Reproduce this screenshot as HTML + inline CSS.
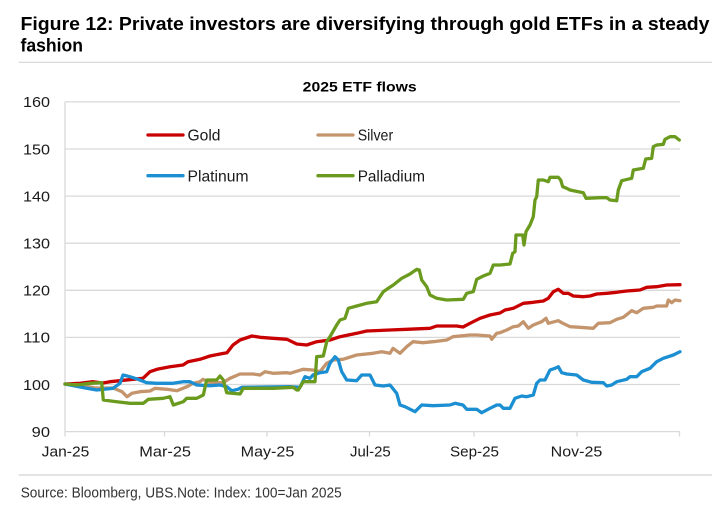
<!DOCTYPE html>
<html>
<head>
<meta charset="utf-8">
<style>
  html, body { margin:0; padding:0; background:#ffffff; }
  body { width:712px; height:512px; overflow:hidden; }
  svg { display:block; }
  text { font-family: "Liberation Sans", "DejaVu Sans", sans-serif; }
</style>
</head>
<body>
<svg width="712" height="512" viewBox="0 0 712 512" xmlns="http://www.w3.org/2000/svg">
  <rect x="0" y="0" width="712" height="512" fill="#ffffff"/>

  <!-- Title -->
  <text x="20.5" y="30" font-size="18" font-weight="bold" fill="#000" textLength="689" lengthAdjust="spacingAndGlyphs">Figure 12: Private investors are diversifying through gold ETFs in a steady</text>
  <text x="20.5" y="51.7" font-size="18" font-weight="bold" fill="#000" textLength="62.5" lengthAdjust="spacingAndGlyphs">fashion</text>
  <line x1="18.7" y1="62.3" x2="712" y2="62.3" stroke="#d4d4d4" stroke-width="1.2"/>

  <!-- Chart title -->
  <text x="302.7" y="91.7" font-size="14" font-weight="bold" fill="#000" textLength="114" lengthAdjust="spacingAndGlyphs">2025 ETF flows</text>

  <!-- Gridlines -->
  <g stroke="#d9d9d9" stroke-width="1.3">
    <line x1="65" y1="101.9" x2="680" y2="101.9"/>
    <line x1="65" y1="149.0" x2="680" y2="149.0"/>
    <line x1="65" y1="196.1" x2="680" y2="196.1"/>
    <line x1="65" y1="243.2" x2="680" y2="243.2"/>
    <line x1="65" y1="290.3" x2="680" y2="290.3"/>
    <line x1="65" y1="337.4" x2="680" y2="337.4"/>
    <line x1="65" y1="384.5" x2="680" y2="384.5"/>
    <line x1="65" y1="431.6" x2="680" y2="431.6"/>
    <line x1="65" y1="101.9" x2="65" y2="431.6"/>
    <!-- ticks -->
    <line x1="65" y1="431.6" x2="65" y2="436.5"/>
    <line x1="164.5" y1="431.6" x2="164.5" y2="436.5"/>
    <line x1="267" y1="431.6" x2="267" y2="436.5"/>
    <line x1="369.5" y1="431.6" x2="369.5" y2="436.5"/>
    <line x1="474" y1="431.6" x2="474" y2="436.5"/>
    <line x1="577" y1="431.6" x2="577" y2="436.5"/>
    <line x1="679.5" y1="431.6" x2="679.5" y2="436.5"/>
  </g>

  <!-- Y labels -->
  <g font-size="15" fill="#1a1a1a" text-anchor="end">
    <text x="50" y="107.2" textLength="27" lengthAdjust="spacingAndGlyphs">160</text>
    <text x="50" y="154.3" textLength="27" lengthAdjust="spacingAndGlyphs">150</text>
    <text x="50" y="201.4" textLength="27" lengthAdjust="spacingAndGlyphs">140</text>
    <text x="50" y="248.5" textLength="27" lengthAdjust="spacingAndGlyphs">130</text>
    <text x="50" y="295.6" textLength="27" lengthAdjust="spacingAndGlyphs">120</text>
    <text x="50" y="342.7" textLength="27" lengthAdjust="spacingAndGlyphs">110</text>
    <text x="50" y="389.8" textLength="27" lengthAdjust="spacingAndGlyphs">100</text>
    <text x="50" y="436.9" textLength="18.3" lengthAdjust="spacingAndGlyphs">90</text>
  </g>

  <!-- X labels -->
  <g font-size="15" fill="#1a1a1a">
    <text x="41.7" y="456.7" textLength="47.6" lengthAdjust="spacingAndGlyphs">Jan-25</text>
    <text x="139.3" y="456.7" textLength="51.7" lengthAdjust="spacingAndGlyphs">Mar-25</text>
    <text x="240.7" y="456.7" textLength="53.6" lengthAdjust="spacingAndGlyphs">May-25</text>
    <text x="350" y="456.7" textLength="40.7" lengthAdjust="spacingAndGlyphs">Jul-25</text>
    <text x="450" y="456.7" textLength="49" lengthAdjust="spacingAndGlyphs">Sep-25</text>
    <text x="550.7" y="456.7" textLength="51.6" lengthAdjust="spacingAndGlyphs">Nov-25</text>
  </g>

  <!-- Legend -->
  <g stroke-width="3.3" stroke-linecap="round">
    <line x1="148" y1="135" x2="183" y2="135" stroke="#c80000"/>
    <line x1="318" y1="135" x2="353" y2="135" stroke="#c4956c"/>
    <line x1="148" y1="175.7" x2="183" y2="175.7" stroke="#1b8fd2"/>
    <line x1="318" y1="175.7" x2="353" y2="175.7" stroke="#6b9b1e"/>
  </g>
  <g font-size="16" fill="#1a1a1a">
    <text x="187.5" y="140.7" textLength="33" lengthAdjust="spacingAndGlyphs">Gold</text>
    <text x="357.7" y="140.7" textLength="35.5" lengthAdjust="spacingAndGlyphs">Silver</text>
    <text x="187.5" y="181.3" textLength="61" lengthAdjust="spacingAndGlyphs">Platinum</text>
    <text x="357.7" y="181.3" textLength="67.3" lengthAdjust="spacingAndGlyphs">Palladium</text>
  </g>

  <!-- Series -->
  <g fill="none" stroke-width="3.3" stroke-linejoin="round" stroke-linecap="round">
    <!-- Gold -->
    <polyline stroke="#c80000" points="65,384 80,383.3 93,381.7 103,383 110,381.7 120,380.7 133,379.3 143,378.3 150,371.7 157,369.3 170,366.7 183,365 188,361.7 200,359.3 210,356 220,354 227,352.7 233,345 240,340 252,336 260,337.3 273,338.3 287,339.3 296.7,344 306.7,345 316.7,341.7 330,340 340,336.7 356.7,333.3 366.7,331 390,330 406.7,329.3 430,328.3 436.7,326 456.7,326 463,327 470,323.3 480,318.3 490,315 500,313 505,310 513.3,308.3 523.3,303.3 533.3,302.3 543.3,301 548.3,298.3 553.3,291.7 558.3,289.3 563.3,293.3 568.3,293.3 573.3,296 583.3,296.7 590,296 596.7,294 606.7,293.3 616.7,292.3 626.7,291 640,290 646.7,287.3 656.7,286.7 666.7,285 680,284.7"/>
    <!-- Silver -->
    <polyline stroke="#c4956c" points="65,384 80,385 95,388 113,388 122,391.7 127,396.7 132,393.3 140,391.7 150,391 155,388.3 167,389.3 177,390.7 187,386.7 193,383.3 200,381.7 203,379.3 210,382.7 223,382.7 230,378.3 240,374 253,374 260,375 265,371.7 273,373.3 287,372.7 290,373.3 303,369.3 313,370 320,371.7 326.7,363.3 333,360 343,359.3 356.7,355 373,353.3 381.7,351.7 390,353.3 393,348.3 400,353.3 406.7,346.7 413,341.7 423,342.7 433,341.7 446.7,340 453,336.7 470,335 476.7,335 490,336 491.7,339.3 496.7,333.3 500,332.7 506.7,330 513.3,326.7 518.3,326 523.3,321.7 528.3,328.3 533.3,325 541.7,321.7 546,318.3 548.3,323.3 558.3,320.7 561.7,322.7 570,326.7 580,327.3 593.3,328.3 598.3,323.3 610,322.7 616.7,319.3 623.3,317.3 631.7,310.7 636.7,312.7 643.3,308.3 653.3,307.3 656.7,306 666.7,306 668.3,300 671.7,302.7 675,300 680,300.7"/>
    <!-- Platinum -->
    <polyline stroke="#1b8fd2" points="65,384 75,386 86.7,388.3 96.7,390 113,388.3 120,383.3 123,375 130,376.7 138,379.3 146.7,382.7 156.7,383.3 173,383.3 183,381.7 190,381.7 196.7,385 210,385.7 220,385 226.7,386.7 231.7,390.7 238,389.3 241.7,387.3 290,386.7 300,387.3 305,376.7 310,378.3 313,375 320,372.7 326.7,371.7 330,363.3 335,356.7 338.3,360 341.7,371.7 346.7,380 356.7,380.7 361.7,375 370,375 375,385 383.3,386 390,385 396.7,393.3 400,405 405,406.7 415,411.7 421.7,405 433,405.7 450,405 455,403.3 463,405 466.7,409.3 476.7,409.3 481.7,412.7 490,408.3 496.7,405 500,405 503.3,408.3 510,408.3 515,398.3 521.7,396 526.7,396.7 533.3,395 536.7,383.3 540,380 545,380 550,370 555,368.3 558.3,366.7 561.7,372.7 566.7,374 576.7,375 583.3,380 591.7,382.3 603.3,382.7 606.7,386 611.7,385 616.7,381.7 626.7,379.3 630,376.7 636.7,376.7 641.7,371.7 650,368.3 656.7,361.7 663.3,358.3 673.3,355 680,351.7"/>
    <!-- Palladium -->
    <polyline stroke="#6b9b1e" points="65,384 76.7,385 90,383.3 101.7,382.7 103.3,400 116.7,401.7 130,403.3 143.3,403.3 148.3,399.3 163.3,398.3 170,396.7 173.3,405 183.3,401.7 186.7,398.3 196.7,398.3 203.3,395 206.7,380 216.7,380 220,376 223.3,380 226.7,392.7 240,394 243.3,388.3 253.3,388.3 273.3,388.3 293.3,387.3 296.7,390 298.3,390 303.3,381.7 315,381.7 316.7,356.7 323.3,356 326.7,341.7 330,336.7 336.7,325 340,320 345,318.3 348.3,308.3 356.7,306 366.7,303.3 376.7,301.7 383.3,291.7 388.3,288.3 393.3,285 401.7,278.3 410,274 416.7,269.3 419.3,270 421.7,280 426.7,286.7 430,295 436.7,298.3 446.7,300 463.3,299.3 466.7,293.3 473.3,291.7 476.7,279.3 483.3,276 490,273.3 493.3,265 500,265 510,264 512.7,253.3 515,251.7 516,235 522.7,235 524,245 526,231.7 530,225 533.3,216.7 535,200 536.7,196.7 538.3,180 543.3,180 548.3,181.7 550,177.3 558.3,177.3 560.7,180 562.7,186.7 566.7,188.3 570,190 583.3,192.7 586,198.3 600,197.7 606.7,197.7 610,200 616.7,200.7 618.3,190 621.7,180.7 631.7,178.3 633.3,170 643.3,168.3 645.7,159 651.7,158.3 653.3,146.7 656.7,145 663.3,144.3 665,139.3 670,136.7 675,136.7 679.3,140"/>
  </g>

  <!-- Footer -->
  <line x1="18.7" y1="475" x2="712" y2="475" stroke="#d4d4d4" stroke-width="1.2"/>
  <text x="20.7" y="497.7" font-size="14.5" fill="#333333" textLength="321" lengthAdjust="spacingAndGlyphs">Source: Bloomberg, UBS.Note: Index: 100=Jan 2025</text>
</svg>
</body>
</html>
